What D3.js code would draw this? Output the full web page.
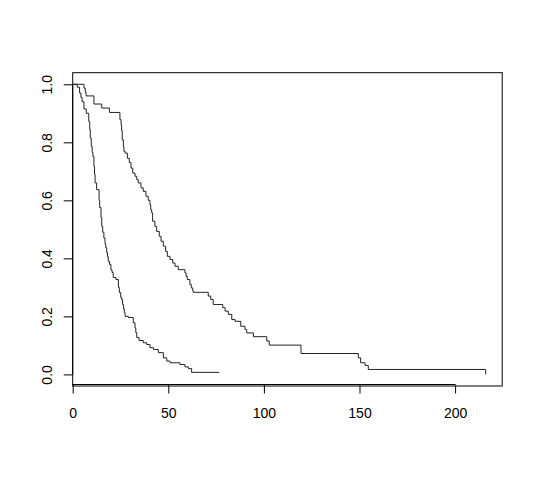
<!doctype html>
<html>
<head>
<title>Survival curves</title>
<style type="text/css">
body { margin: 0; background: #fff; }
svg { display: block; }
text { font-family: "Liberation Sans", Arial, sans-serif; font-size: 14px; fill: #000; }
</style>
<script src="https://cdnjs.cloudflare.com/ajax/libs/d3/7.8.5/d3.min.js"></script>
</head>
<body>
<script type="text/javascript">
var width = 540;
var height = 477;

// Step curves: time, survival after the step
var fastTimes = [0, 2.4, 3.6, 4.3, 4.9, 5.9, 7.1, 8.4, 8.9, 9.2, 9.7, 10.2, 10.6, 11.1, 11.4, 11.7,
	12.5, 13.8, 14.1, 14.8, 15.2, 15.7, 16.3, 16.9, 17.3, 17.8, 18.2, 18.6, 19.3, 20, 20.6, 21.2,
	22.6, 23.9, 24.4, 25.1, 25.6, 26.1, 26.6, 27.0, 27.4, 29.1, 31.7, 32.6, 33.0, 33.5, 34.7, 36.9,
	38.7, 40.4, 42.2, 44.8, 47.4, 49.2, 50.9, 56.1, 58.7, 60.5, 62.2, 76.7];
var fastSurv = [1.0, 0.99, 0.97, 0.955, 0.94, 0.915, 0.9, 0.872, 0.845, 0.815, 0.786, 0.765, 0.751, 0.717, 0.69, 0.66,
	0.637, 0.6, 0.575, 0.54, 0.51, 0.49, 0.47, 0.45, 0.437, 0.42, 0.406, 0.39, 0.379, 0.36, 0.351, 0.334,
	0.327, 0.30, 0.282, 0.266, 0.258, 0.24, 0.225, 0.213, 0.2, 0.196, 0.178, 0.16, 0.144, 0.127, 0.117, 0.109,
	0.103, 0.092, 0.086, 0.075, 0.057, 0.046, 0.04, 0.034, 0.026, 0.02, 0.007, 0.007];

var slowTimes = [0, 5.9, 6.6, 7.0, 11.1, 15.2, 19.2, 24.7, 25.3, 25.6, 25.9, 26.5, 26.8, 27.4, 28.6, 29.6,
	30.5, 31.4, 32.6, 33.5, 34.3, 35.7, 36.9, 38.3, 39.5, 40.4, 40.8, 41.3, 41.8, 43, 43.9, 45.3,
	46.2, 47.4, 48.6, 49.5, 50.9, 52.3, 53.5, 55.2, 58.7, 59.3, 59.9, 61.3, 62.0, 62.8, 63.1, 70.9,
	72.2, 73.5, 78.5, 79.7, 81.4, 83.2, 84.9, 87.9, 90.1, 91, 94.5, 101.5, 102.8, 119.4, 149.4, 150.6,
	152.9, 154.6, 216];
var slowSurv = [1.0, 0.987, 0.973, 0.96, 0.932, 0.918, 0.903, 0.878, 0.86, 0.84, 0.809, 0.785, 0.769, 0.763, 0.745, 0.73,
	0.711, 0.694, 0.683, 0.671, 0.66, 0.643, 0.631, 0.614, 0.6, 0.585, 0.568, 0.557, 0.528, 0.51, 0.493, 0.476,
	0.459, 0.442, 0.424, 0.407, 0.396, 0.384, 0.373, 0.361, 0.35, 0.338, 0.327, 0.31, 0.298, 0.287, 0.283, 0.27,
	0.258, 0.241, 0.23, 0.218, 0.207, 0.189, 0.183, 0.166, 0.155, 0.143, 0.13, 0.115, 0.101, 0.072, 0.057, 0.04,
	0.031, 0.017, 0.0];

var xTicks = [0, 50, 100, 150, 200];
var yTicks = [0, 0.2, 0.4, 0.6, 0.8, 1.0];
var yTickLabels = ["0.0", "0.2", "0.4", "0.6", "0.8", "1.0"];

var svg = d3.select("body").append("svg")
	.attr("width", width)
	.attr("height", height);

var tMax = d3.max(slowTimes);
var x = d3.scaleLinear().domain([0, tMax * 1.04]).range([72.7, 502.2]);	// R style: no padding left, 4% right
var y = d3.scaleLinear().domain([-0.04, 1.04]).range([386, 72.7]);

// plot frame
svg.append("rect")
	.attr("x", x(0))
	.attr("y", y(1.04))
	.attr("width", x(tMax * 1.04) - x(0))
	.attr("height", y(-0.04) - y(1.04))
	.style("fill", "none")
	.style("stroke", "#000")
	.style("stroke-width", 1);

// x axis, line only from first to last tick
var xAxis = svg.append("g")
	.attr("transform", "translate(0," + (y(-0.04) - 1.5) + ")")
	.call(d3.axisBottom(x).tickValues(xTicks).tickSize(9).tickSizeOuter(0).tickPadding(15));
xAxis.select(".domain").remove();
xAxis.append("line")
	.attr("x1", x(xTicks[0]))
	.attr("x2", x(xTicks[xTicks.length - 1]))
	.style("stroke", "#000");
xAxis.selectAll("text").style("font-size", "14px").style("font-family", null);

// y axis with rotated labels (tick groups already carry the y offset)
var yAxis = svg.append("g")
	.attr("transform", "translate(" + x(0) + ",0)")
	.call(d3.axisLeft(y).tickValues(yTicks).tickSize(9).tickSizeOuter(0)
		.tickFormat(function(d, i) { return yTickLabels[i]; }));
yAxis.select(".domain").remove();
yAxis.append("line")
	.attr("y1", y(yTicks[0]))
	.attr("y2", y(yTicks[yTicks.length - 1]))
	.style("stroke", "#000");
yAxis.selectAll("text")
	.attr("x", 0)
	.attr("y", 0)
	.attr("dy", "0.36em")
	.attr("text-anchor", "middle")
	.attr("transform", "translate(" + (47 - x(0)) + ",0) rotate(-90)")
	.style("font-size", "14px")
	.style("font-family", null);

var step = d3.line()
	.x(function(d) { return x(d[0]); })
	.y(function(d) { return y(d[1]); })
	.curve(d3.curveStepAfter);

function curve(times, surv) {
	return times.map(function(t, i) { return [t, surv[i]]; });
}

svg.selectAll(".km")
	.data([curve(fastTimes, fastSurv), curve(slowTimes, slowSurv)])
	.enter()
	.append("path")
	.classed("km", true)
	.attr("d", step)
	.style("fill", "none")
	.style("stroke", "#222")
	.style("stroke-width", 1);
</script>
</body>
</html>
